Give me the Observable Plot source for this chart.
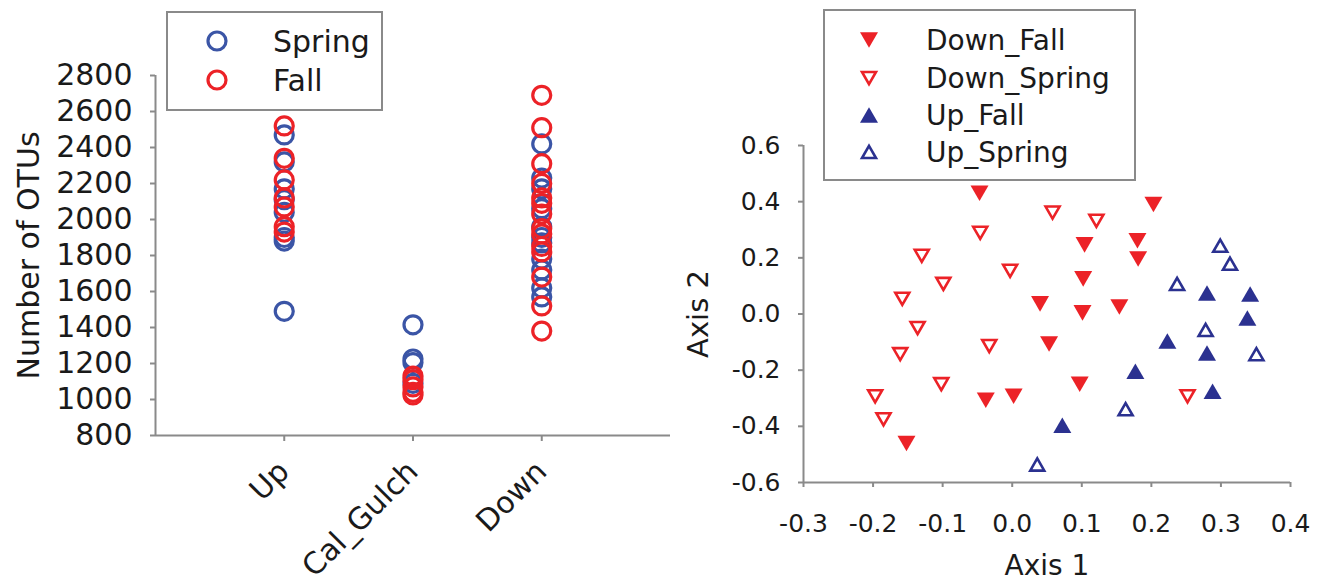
<!DOCTYPE html>
<html><head><meta charset="utf-8">
<script src="https://cdn.jsdelivr.net/npm/d3@7"></script>
<script src="https://cdn.jsdelivr.net/npm/@observablehq/plot@0.6"></script>
<style>
html,body{margin:0;padding:0;background:#fff;}
#wrap{position:relative;width:1318px;height:584px;overflow:hidden;font-family:"DejaVu Sans";}
#wrap > svg{position:absolute;top:0;}
</style></head><body><div id="wrap"></div>
<script>
// ---------- Left panel data ----------
const sites = ["Up", "Cal_Gulch", "Down"];
const seasons = ["Spring", "Fall"];
const upSpring = [2470, 2320, 2170, 2110, 2040, 1900, 1880, 1490];
const upFall = [2520, 2340, 2220, 2120, 2070, 1960, 1930];
const calSpring = [1415, 1225, 1205, 1090];
const calFall = [1130, 1110, 1070, 1040, 1025];
const downSpring = [2420, 2230, 2170, 2060, 1960, 1900, 1870, 1780, 1720, 1620, 1570];
const downFall = [2690, 2510, 2310, 2200, 2120, 2090, 2030, 1950, 1920, 1850, 1820, 1680, 1520, 1380];
const otuTicks = [800, 1000, 1200, 1400, 1600, 1800, 2000, 2200, 2400, 2600, 2800];

// ---------- Right panel data (NMDS) ----------
const groups = ["Down_Fall", "Down_Spring", "Up_Fall", "Up_Spring"];
const nmdsDownFall = [[-0.047,0.43],[0.203,0.39],[0.104,0.246],[0.18,0.261],[0.181,0.196],[0.102,0.125],[0.04,0.036],[0.101,0.004],[0.154,0.025],[0.053,-0.107],[0.097,-0.25],[-0.038,-0.307],[0.002,-0.293],[-0.152,-0.461]];
const nmdsDownSpring = [[-0.046,0.289],[-0.13,0.207],[-0.003,0.154],[-0.099,0.107],[-0.158,0.054],[-0.136,-0.05],[-0.161,-0.143],[-0.033,-0.114],[-0.102,-0.25],[-0.197,-0.293],[-0.185,-0.375],[0.058,0.361],[0.121,0.332],[0.252,-0.293]];
const nmdsUpFall = [[0.28,0.075],[0.342,0.071],[0.338,-0.014],[0.223,-0.096],[0.28,-0.139],[0.177,-0.204],[0.288,-0.275],[0.072,-0.396]];
const nmdsUpSpring = [[0.299,0.243],[0.313,0.179],[0.237,0.107],[0.278,-0.057],[0.351,-0.143],[0.163,-0.339],[0.036,-0.536]];
const axis1Ticks = [-0.3, -0.2, -0.1, 0.0, 0.1, 0.2, 0.3, 0.4];
const axis2Ticks = [-0.6, -0.4, -0.2, 0.0, 0.2, 0.4, 0.6];

// ---------- styles ----------
const BLUE = "#3b55a6", RED = "#ec2227", NAVY = "#2b3190", GRAY = "#8a8a8a", INK = "#1a1a1a";
const FONT = "DejaVu Sans";

function triPath(ctx, s, up) {
  const h = s * Math.sqrt(3) / 2, k = up ? 1 : -1;
  ctx.moveTo(0, -k * h / 2); ctx.lineTo(s / 2, k * h / 2); ctx.lineTo(-s / 2, k * h / 2); ctx.closePath();
}
const triUp = {draw(ctx, size) { triPath(ctx, 2 * Math.sqrt(size / Math.PI), true); }};
const triDown = {draw(ctx, size) { triPath(ctx, 2 * Math.sqrt(size / Math.PI), false); }};

const rows = (arr, site, season) => arr.map(v => ({site, pos: sites.indexOf(site) + 1, season, v}));
const springRows = [...rows(upSpring, "Up", "Spring"), ...rows(calSpring, "Cal_Gulch", "Spring"), ...rows(downSpring, "Down", "Spring")];
const fallRows = [...rows(upFall, "Up", "Fall"), ...rows(calFall, "Cal_Gulch", "Fall"), ...rows(downFall, "Down", "Fall")];

const left = Plot.plot({
  width: 680, height: 584,
  marginLeft: 155, marginRight: 10, marginTop: 75, marginBottom: 149,
  x: {domain: [0, 4]},
  y: {domain: [800, 2800]},
  style: {fontFamily: FONT, fontSize: "30px", color: INK, background: "none", overflow: "visible"},
  marks: [
    Plot.ruleY([800], {x1: 0, x2: 4, stroke: GRAY, strokeWidth: 2}),
    Plot.ruleX([0], {y1: 800, y2: 2800, stroke: GRAY, strokeWidth: 2}),
    Plot.axisY(otuTicks, {tickSize: 5, tickPadding: 18, stroke: GRAY, strokeWidth: 2, fill: INK, fontSize: 30, tickFormat: d => String(d), label: null}),
    Plot.axisX([1, 2, 3], {tickSize: 6, tickPadding: 25, tickRotate: -45, stroke: GRAY, strokeWidth: 2, fill: INK, fontSize: 30, tickFormat: i => sites[i - 1], label: null}),
    Plot.dot(springRows, {x: "pos", y: "v", r: 9, stroke: BLUE, strokeWidth: 3.2}),
    Plot.dot(fallRows, {x: "pos", y: "v", r: 9, stroke: RED, strokeWidth: 3.2}),
    Plot.text(["Number of OTUs"], {text: d => d, frameAnchor: "left", textAnchor: "middle", lineAnchor: "middle", dx: -126, rotate: -90, fontSize: 30, fill: INK})
  ]
});
left.style.left = "0px";

const pts = (arr, group) => arr.map(([a, b]) => ({group, a, b}));
const right = Plot.plot({
  width: 678, height: 584,
  marginLeft: 163, marginRight: 28, marginTop: 145, marginBottom: 102,
  x: {domain: [-0.3, 0.4]},
  y: {domain: [-0.6, 0.6]},
  style: {fontFamily: FONT, fontSize: "29px", color: INK, background: "none", overflow: "visible"},
  marks: [
    Plot.ruleY([-0.6], {x1: -0.3, x2: 0.4, stroke: GRAY, strokeWidth: 2}),
    Plot.ruleX([-0.3], {y1: -0.6, y2: 0.6, stroke: GRAY, strokeWidth: 2}),
    Plot.axisY(axis2Ticks, {tickSize: 5, tickPadding: 18, stroke: GRAY, strokeWidth: 2, fill: INK, fontSize: 25, tickFormat: d => d.toFixed(1), label: null}),
    Plot.axisX(axis1Ticks, {tickSize: 5, tickPadding: 27, stroke: GRAY, strokeWidth: 2, fill: INK, fontSize: 25, tickFormat: d => d.toFixed(1), label: null}),
    Plot.dot(pts(nmdsDownSpring, "Down_Spring"), {x: "a", y: "b", symbol: triDown, r: 7, stroke: RED, strokeWidth: 2.6, fill: "white"}),
    Plot.dot(pts(nmdsUpSpring, "Up_Spring"), {x: "a", y: "b", symbol: triUp, r: 7, stroke: NAVY, strokeWidth: 2.6, fill: "white"}),
    Plot.dot(pts(nmdsDownFall, "Down_Fall"), {x: "a", y: "b", symbol: triDown, r: 9, fill: RED}),
    Plot.dot(pts(nmdsUpFall, "Up_Fall"), {x: "a", y: "b", symbol: triUp, r: 9, fill: NAVY}),
    Plot.text(["Axis 1"], {text: d => d, frameAnchor: "bottom", textAnchor: "middle", dy: 84, lineAnchor: "middle", fontSize: 28, fill: INK}),
    Plot.text(["Axis 2"], {text: d => d, frameAnchor: "left", textAnchor: "middle", lineAnchor: "middle", dx: -105, rotate: -90, fontSize: 29, fill: INK})
  ]
});
right.style.left = "640px";

const wrap = document.getElementById("wrap");
wrap.append(left, right);

// ---------- legends ----------
const leg = d3.create("svg").attr("width", 1318).attr("height", 584).style("left", "0px")
  .attr("font-family", FONT).attr("fill", INK);
// left legend
leg.append("rect").attr("x", 167).attr("y", 12).attr("width", 215).attr("height", 98)
  .attr("fill", "white").attr("stroke", GRAY).attr("stroke-width", 2);
const leftLeg = [{label: seasons[0], color: BLUE, y: 41}, {label: seasons[1], color: RED, y: 80}];
leftLeg.forEach(d => {
  leg.append("circle").attr("cx", 217).attr("cy", d.y).attr("r", 9).attr("fill", "none").attr("stroke", d.color).attr("stroke-width", 3.2);
  leg.append("text").attr("x", 273).attr("y", d.y + 11).attr("font-size", 30).text(d.label);
});
// right legend
leg.append("rect").attr("x", 824).attr("y", 10).attr("width", 311).attr("height", 170)
  .attr("fill", "white").attr("stroke", GRAY).attr("stroke-width", 2);
const rightLeg = [
  {label: groups[0], up: false, filled: true, color: RED, y: 40},
  {label: groups[1], up: false, filled: false, color: RED, y: 78},
  {label: groups[2], up: true, filled: true, color: NAVY, y: 115},
  {label: groups[3], up: true, filled: false, color: NAVY, y: 152}
];
rightLeg.forEach(d => {
  const p = d3.path();
  triPath(p, d.filled ? 18 : 14, d.up);
  leg.append("path").attr("transform", `translate(869,${d.y})`).attr("d", p.toString())
    .attr("fill", d.filled ? d.color : "white").attr("stroke", d.filled ? "none" : d.color).attr("stroke-width", 2.6);
  leg.append("text").attr("x", 926).attr("y", d.y + 10).attr("font-size", 28).text(d.label);
});
wrap.append(leg.node());
</script></body></html>
